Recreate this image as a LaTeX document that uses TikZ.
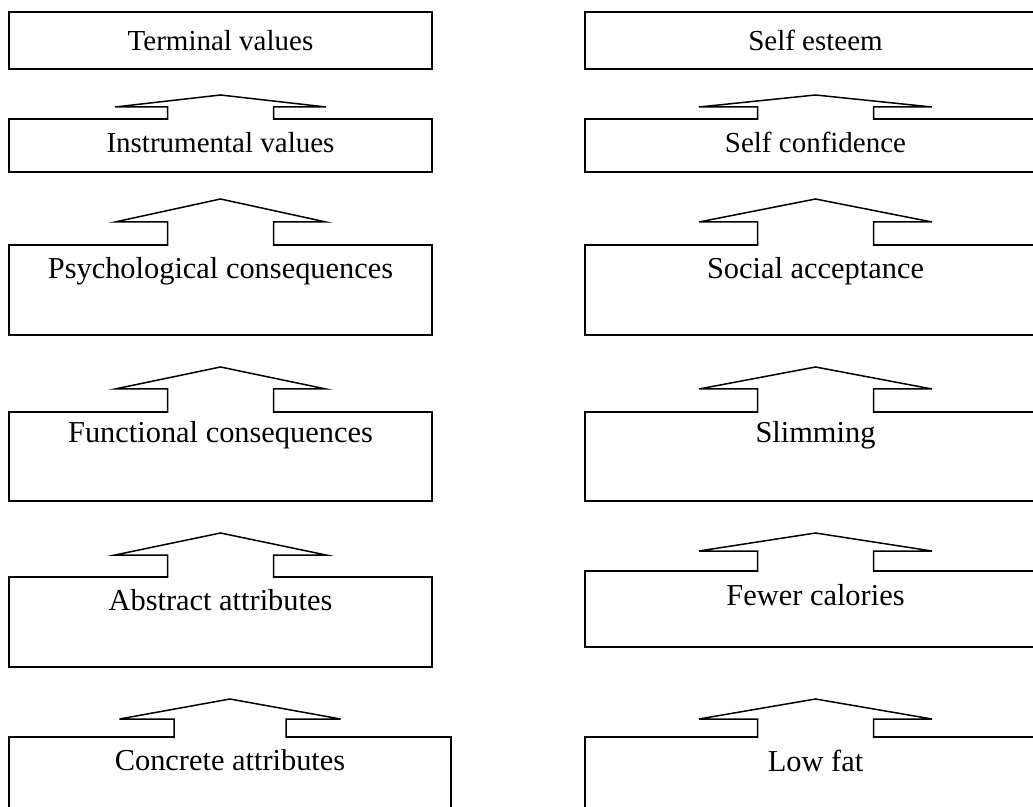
\documentclass[tikz,border=0pt]{standalone}
\usepackage{fontspec}
\setmainfont{Liberation Serif}
\usepackage{tikz}
\usetikzlibrary{calc}
% block arrow standing on the top edge of a box
% #1 box, #2 stem half width, #3 head half width, #4 stem height, #5 head height
\newcommand{\stemarrow}[5]{%
  \draw[blockarr] ($(#1.north)+(-#2,1)$) -- ($(#1.north)+(-#2,-#4)$)
    -- ($(#1.north)+(-#3,-#4)$) -- ($(#1.north)+(0,-#4-#5)$)
    -- ($(#1.north)+(#3,-#4)$) -- ($(#1.north)+(#2,-#4)$)
    -- ($(#1.north)+(#2,1)$);}

\begin{document}
\begin{tikzpicture}[x=0.5pt, y=-0.5pt,
  box/.style={draw, line width=0.75pt, inner sep=0pt, outer sep=0pt,
              anchor=base, font=\fontsize{15.2}{17}\selectfont},
  thin/.style={font=\fontsize{14.5}{16}\selectfont},
  lbox/.style={box, minimum width=211.5pt},
  rbox/.style={box, minimum width=230.5pt},
  blockarr/.style={draw, fill=white, line width=0.75pt, line join=miter}]
\path[use as bounding box] (0,0) rectangle (1033,807);
\clip (0,0) rectangle (1033,807);

% means-end chain
\node[lbox, thin, text height=19.5pt, text depth=9pt] (tv) at (220.5,51) {Terminal values};
\node[lbox, thin, text height=17pt, text depth=9.5pt] (iv) at (220.5,153) {Instrumental values};
\node[lbox, text height=17pt, text depth=28pt] (pc) at (220.5,279) {Psychological consequences};
\node[lbox, text height=15.5pt, text depth=29pt] (fc) at (220.5,443) {Functional consequences};
\node[lbox, text height=16.5pt, text depth=28.5pt] (aa) at (220.5,610) {Abstract attributes};
\node[box, minimum width=221pt, text height=16.5pt, text depth=30pt] (ca) at (230,770) {Concrete attributes};

% example chain
\node[rbox, thin, text height=19.5pt, text depth=9pt] (se) at (815.5,51) {Self esteem};
\node[rbox, thin, text height=17pt, text depth=9.5pt] (sc) at (815.5,153) {Self confidence};
\node[rbox, text height=17pt, text depth=28pt] (sa) at (815.5,279) {Social acceptance};
\node[rbox, text height=15.5pt, text depth=29pt] (sl) at (815.5,443) {Slimming};
\node[rbox, text height=17pt, text depth=21pt] (fw) at (815.5,605) {Fewer calories};
\node[rbox, text height=17pt, text depth=30pt] (lf) at (815.5,771) {Low fat};

\stemarrow{iv}{53}{105.5}{12}{12}
\stemarrow{pc}{53}{105.5}{23}{23}
\stemarrow{fc}{53}{105.5}{23}{22}
\stemarrow{aa}{53}{105.5}{22}{22}
\stemarrow{ca}{56}{110.5}{18}{20}

\stemarrow{sc}{58}{116.5}{12}{12}
\stemarrow{sa}{58}{116.5}{23}{23}
\stemarrow{sl}{58}{116.5}{23}{22}
\stemarrow{fw}{58}{116.5}{20}{18}
\stemarrow{lf}{58}{116.5}{18}{20}
\end{tikzpicture}
\end{document}
